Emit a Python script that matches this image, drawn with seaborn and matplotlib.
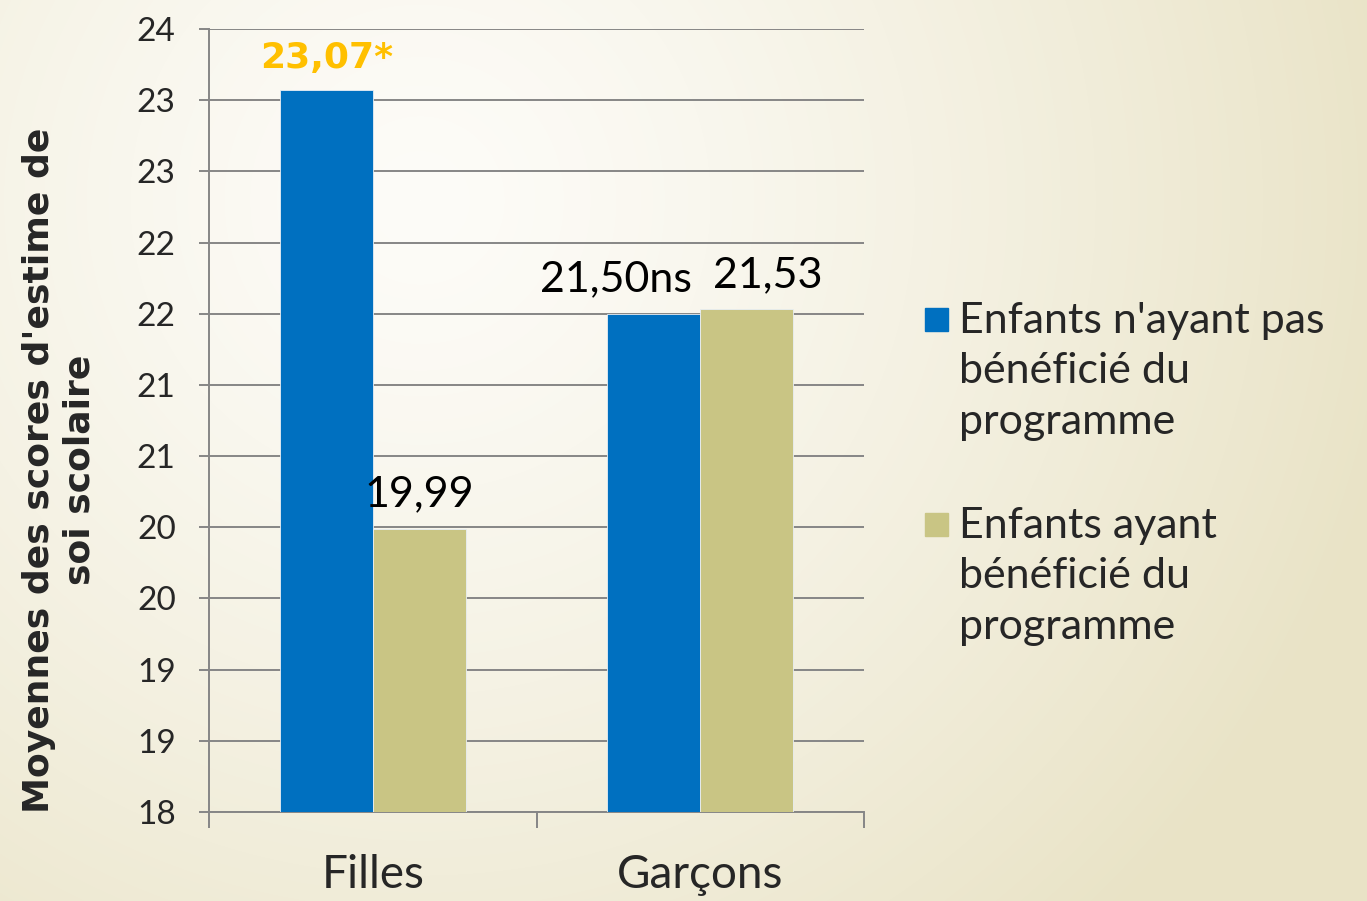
import numpy as np
import pandas as pd
import matplotlib.pyplot as plt
import seaborn as sns

# Données
categories = ["Filles", "Garçons"]
groupes = ["Enfants n'ayant pas\nbénéficié du\nprogramme",
           "Enfants ayant\nbénéficié du\nprogramme"]
non_beneficiaires = [23.07, 21.50]
beneficiaires = [19.99, 21.53]
suffixes_non = ["*", "ns"]
suffixes_ben = ["", ""]
y_ticks = np.arange(18, 24, 0.5)

couleurs = ["#0070C0", "#C9C584"]
gris = "#868686"

df = pd.DataFrame({
    "sexe": categories * 2,
    "score": non_beneficiaires + beneficiaires,
    "groupe": [groupes[0]] * 2 + [groupes[1]] * 2,
})

sns.set_style("white")
plt.rcParams['font.family'] = ['Lato', 'DejaVu Sans']

fig = plt.figure(figsize=(13.67, 9.01), dpi=100)

# fond dégradé beige
bg = fig.add_axes([0, 0, 1, 1], zorder=0)
h, w = 901, 1367
yy, xx = np.mgrid[0:h, 0:w]
d = np.sqrt((xx - 420) ** 2 + (yy - 200) ** 2) / 1000
t = np.clip(d, 0, 1) ** 1.3
c0 = np.array([253, 252, 248]) / 255
c1 = np.array([233, 227, 198]) / 255
img = c0 + (c1 - c0) * t[..., None]
bg.imshow(img, aspect='auto', extent=[0, 1, 0, 1])
bg.axis('off')

ax = fig.add_axes([209 / 1367, 1 - 812 / 901, 655 / 1367, 783 / 901], zorder=1)
ax.patch.set_alpha(0)

sns.barplot(data=df, x="sexe", y="score", hue="groupe", palette=couleurs,
            width=0.568, saturation=1, legend=False, ax=ax,
            edgecolor="#e8eef4", linewidth=0.6, zorder=3)

ax.set_ylim(18, 23.5)
ax.set_xlim(-0.5, 1.5)
ax.set_yticks(y_ticks)
ax.set_yticklabels([f"{int(np.floor(v + 0.5))}" for v in y_ticks], fontsize=24)
ax.yaxis.grid(True, color=gris, linewidth=1.4, zorder=0)
ax.set_axisbelow(True)

# ticks de l'axe des catégories
ax.set_xticks([-0.5, 0.5, 1.5])
ax.set_xticklabels([])
ax.set_xticks([0, 1], minor=True)
ax.set_xticklabels(categories, minor=True, fontsize=33)
ax.tick_params(axis='x', which='major', length=11.5, width=1.4, color=gris, direction='out', bottom=True)
ax.tick_params(axis='x', which='minor', length=0, pad=30)
ax.tick_params(axis='y', length=7, width=1.4, color=gris, direction='out', left=True, pad=17)
ax.set_xlabel("")
ax.set_ylabel("")

for s in ["top", "right"]:
    ax.spines[s].set_visible(False)
for s in ["left", "bottom"]:
    ax.spines[s].set_color(gris)
    ax.spines[s].set_linewidth(1.4)

# étiquettes des valeurs
dx_non = [0, -27]
dx_ben = [0, 15]
for bars, vals, suf, dxs in [(ax.containers[0], non_beneficiaires, suffixes_non, dx_non),
                             (ax.containers[1], beneficiaires, suffixes_ben, dx_ben)]:
    for bar, v, s, dx in zip(bars, vals, suf, dxs):
        txt = f"{v:.2f}".replace(".", ",") + s
        gras = s == "*"
        ax.annotate(txt, (bar.get_x() + bar.get_width() / 2, bar.get_height()),
                    xytext=(dx, 16), textcoords='offset points', ha='center', va='baseline',
                    fontsize=26 if gras else 31, fontweight='bold' if gras else 'normal',
                    family='DejaVu Sans' if gras else None,
                    color="#FFC000" if gras else "black", zorder=5)

# titre de l'axe des y
fig.text(59 / 1367, 1 - 470 / 901, "Moyennes des scores d'estime de\nsoi scolaire",
         rotation=90, ha='center', va='center', multialignment='center',
         fontsize=26, fontweight='bold', family='DejaVu Sans', linespacing=1.25)

# légende
for i, (lab, col) in enumerate(zip(groupes, couleurs)):
    y0 = 1 - (331 + 205 * i) / 901
    fig.patches.append(plt.Rectangle((925 / 1367, y0), 23 / 1367, 23 / 901,
                                     transform=fig.transFigure, color=col, figure=fig))
    fig.text(959 / 1367, 1 - (302 + 205 * i) / 901, lab, ha='left', va='top',
             fontsize=31, linespacing=1.4)

fig.savefig("out.png", dpi=100)
